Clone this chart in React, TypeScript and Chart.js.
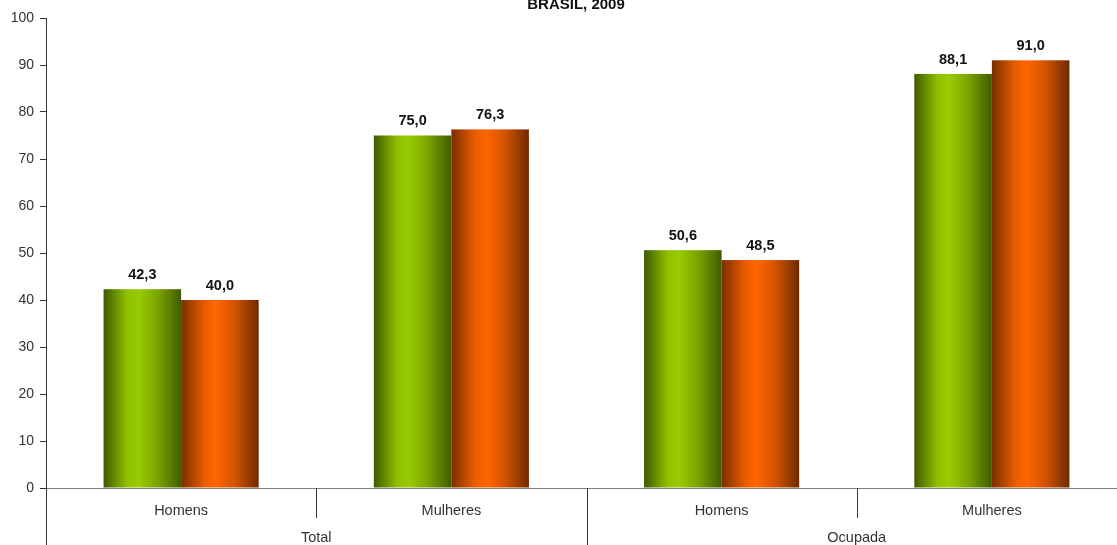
import React, { useEffect, useRef } from "react";
import { Chart, registerables } from "chart.js";
Chart.register(...registerables);

const title = "BRASIL, 2009";
const categories = ["Homens", "Mulheres", "Homens", "Mulheres"];
const groups = ["Total", "Ocupada"];
const groupSpans = [[0, 1], [2, 3]];
const seriesGreen = [42.3, 75.0, 50.6, 88.1];
const seriesOrange = [40.0, 76.3, 48.5, 91.0];
const yMin = 0;
const yMax = 100;
const yStep = 10;

const FONT = "'Liberation Sans', Arial, sans-serif";

const gradientStops = [
  ["#3e5a00", "#8fbf00", "#99cc00", "#7aa300", "#3f5c00"],
  ["#7a2e00", "#e85c00", "#ff6600", "#d05200", "#6e2a00"],
];

const barPlugin = {
  id: "gradBars",
  afterDatasetsDraw(chart: any) {
    const ctx = chart.ctx;
    chart.data.datasets.forEach((ds: any, di: number) => {
      const meta = chart.getDatasetMeta(di);
      meta.data.forEach((el: any, i: number) => {
        const { x, y, base, width } = el.getProps(["x", "y", "base", "width"], true);
        const left = x - width / 2;
        const g = ctx.createLinearGradient(left, 0, left + width, 0);
        const stops = gradientStops[di];
        g.addColorStop(0, stops[0]);
        g.addColorStop(0.3, stops[1]);
        g.addColorStop(0.45, stops[2]);
        g.addColorStop(0.7, stops[3]);
        g.addColorStop(1, stops[4]);
        ctx.save();
        ctx.fillStyle = g;
        ctx.fillRect(left, y, width, base - y);
        ctx.fillStyle = "#111";
        ctx.font = `bold 14.5px ${FONT}`;
        ctx.textAlign = "center";
        ctx.textBaseline = "bottom";
        const v = ds.data[i] as number;
        ctx.fillText(v.toFixed(1).replace(".", ","), x, y - 7);
        ctx.restore();
      });
    });
  },
  afterDraw(chart: any) {
    const ctx = chart.ctx;
    const xs = chart.scales.x;
    const area = chart.chartArea;
    const H = chart.height;
    ctx.save();
    // title
    ctx.fillStyle = "#111";
    ctx.font = `bold 15px ${FONT}`;
    ctx.textAlign = "center";
    ctx.textBaseline = "middle";
    ctx.fillText(title, 576, 5);
    // left axis extension
    ctx.strokeStyle = "#333";
    ctx.lineWidth = 1;
    ctx.beginPath();
    ctx.moveTo(Math.round(area.left) + 0.5, area.bottom);
    ctx.lineTo(Math.round(area.left) + 0.5, H);
    ctx.stroke();
    // separators
    for (let i = 0; i < categories.length - 1; i++) {
      const sx = (xs.getPixelForValue(i) + xs.getPixelForValue(i + 1)) / 2;
      const isGroup = groupSpans.some((s) => s[1] === i);
      ctx.beginPath();
      ctx.moveTo(Math.round(sx) + 0.5, area.bottom);
      ctx.lineTo(Math.round(sx) + 0.5, isGroup ? H : area.bottom + 30);
      ctx.stroke();
    }
    // group labels
    ctx.fillStyle = "#333";
    ctx.font = `14.5px ${FONT}`;
    groups.forEach((gname, gi) => {
      const [a, b] = groupSpans[gi];
      const cx = (xs.getPixelForValue(a) + xs.getPixelForValue(b)) / 2;
      ctx.fillText(gname, cx, 538);
    });
    ctx.restore();
  },
};

export default function App() {
  const ref = useRef<HTMLCanvasElement>(null);
  useEffect(() => {
    if (!ref.current) return;
    const chart = new Chart(ref.current, {
      type: "bar",
      data: {
        labels: categories,
        datasets: [
          { label: "A", data: seriesGreen, backgroundColor: "rgba(0,0,0,0)", borderWidth: 0 },
          { label: "B", data: seriesOrange, backgroundColor: "rgba(0,0,0,0)", borderWidth: 0 },
        ],
      },
      options: {
        responsive: false,
        animation: false,
        devicePixelRatio: 1,
        layout: { padding: { top: 18, right: 0, left: 0, bottom: 0 } },
        datasets: { bar: { barPercentage: 1, categoryPercentage: 0.574 } },
        plugins: { legend: { display: false }, tooltip: { enabled: false }, title: { display: false } },
        scales: {
          x: {
            type: "category",
            offset: true,
            grid: { display: false, drawTicks: false },
            border: { display: true, color: "#808080", width: 1 },
            ticks: { color: "#333", font: { family: FONT, size: 14.5 }, padding: 14, maxRotation: 0 },
            afterFit: (s: any) => { s.height = 57; },
          },
          y: {
            min: yMin,
            max: yMax,
            ticks: { stepSize: yStep, color: "#333", font: { family: FONT, size: 14 }, padding: 6 },
            grid: { drawOnChartArea: false, tickLength: 6, color: "#333" },
            border: { display: true, color: "#333", width: 1 },
            afterFit: (s: any) => { s.width = 46; },
          },
        },
      },
      plugins: [barPlugin],
    });
    return () => chart.destroy();
  }, []);
  return (
    <div style={{ position: "fixed", left: 0, top: 0, width: 1117, height: 545, overflow: "hidden", background: "#fff" }}>
      <canvas ref={ref} width={1127} height={545} style={{ display: "block" }} />
    </div>
  );
}
